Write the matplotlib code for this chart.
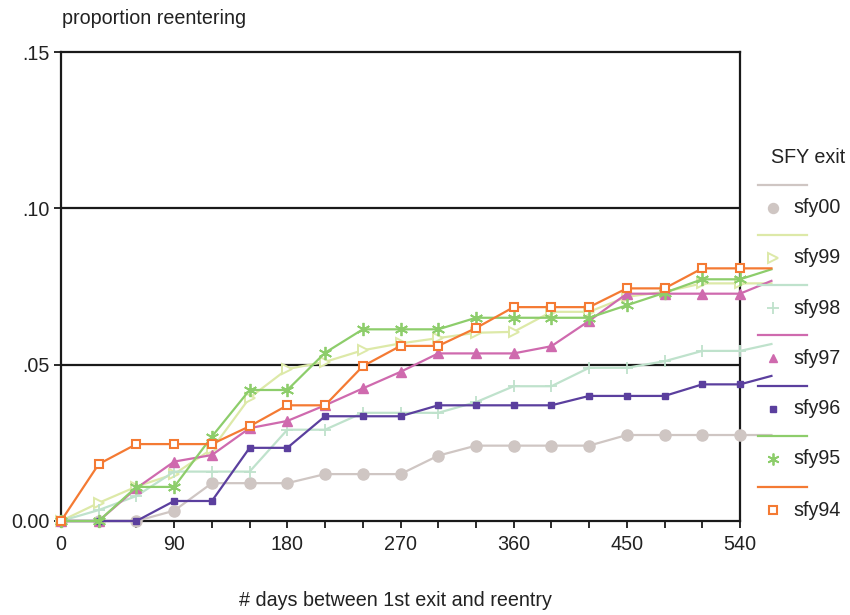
import matplotlib
matplotlib.use("Agg")
import matplotlib.pyplot as plt
from matplotlib.lines import Line2D

plt.rcParams['font.family'] = ['Liberation Sans', 'DejaVu Sans']

days = [0, 30, 60, 90, 120, 150, 180, 210, 240, 270, 300, 330, 360, 390, 420, 450, 480, 510, 540]
tail_day = 565

series_names = ["sfy00", "sfy99", "sfy98", "sfy97", "sfy96", "sfy95", "sfy94"]
sfy00 = [0, 0, 0, 0.0033, 0.0121, 0.0121, 0.0121, 0.015, 0.015, 0.015, 0.0209, 0.0241, 0.0241, 0.0241, 0.0241, 0.0275, 0.0275, 0.0275, 0.0275]
sfy99 = [0, 0.0058, 0.011, 0.015, 0.023, 0.0394, 0.0486, 0.0509, 0.0546, 0.0568, 0.0585, 0.0602, 0.0605, 0.0669, 0.0669, 0.0717, 0.0733, 0.076, 0.076]
sfy98 = [0, 0.0035, 0.008, 0.0158, 0.0158, 0.0158, 0.0292, 0.0292, 0.0346, 0.0346, 0.0346, 0.038, 0.0431, 0.0431, 0.049, 0.049, 0.0511, 0.0544, 0.0544]
sfy97 = [0, 0, 0.0105, 0.019, 0.0211, 0.0297, 0.032, 0.037, 0.0424, 0.0477, 0.0536, 0.0536, 0.0536, 0.0559, 0.064, 0.0727, 0.0727, 0.0727, 0.0727]
sfy96 = [0, 0, 0, 0.0064, 0.0064, 0.0234, 0.0234, 0.0335, 0.0335, 0.0335, 0.037, 0.037, 0.037, 0.037, 0.04, 0.04, 0.04, 0.0437, 0.0437]
sfy95 = [0, 0, 0.0109, 0.0109, 0.027, 0.0419, 0.0419, 0.0538, 0.0613, 0.0613, 0.0613, 0.065, 0.065, 0.065, 0.065, 0.069, 0.073, 0.0773, 0.0773]
sfy94 = [0, 0.0182, 0.0246, 0.0246, 0.0246, 0.0303, 0.037, 0.037, 0.0495, 0.056, 0.056, 0.0617, 0.0684, 0.0684, 0.0684, 0.0744, 0.0744, 0.0808, 0.0808]
# value of each line where it leaves the plot region on the right
tails = [0.0275, 0.076, 0.0566, 0.0768, 0.0464, 0.0805, 0.0808]

xticks = [0, 90, 180, 270, 360, 450, 540]
xticklabels = ["0", "90", "180", "270", "360", "450", "540"]
yticks = [0, 0.05, 0.10, 0.15]
yticklabels = ["0.00", ".05", ".10", ".15"]

values = [sfy00, sfy99, sfy98, sfy97, sfy96, sfy95, sfy94]
colors = ["#cfc6c3", "#dde9a8", "#bfe2cc", "#cf6aae", "#5b3f9e", "#8dcd6b", "#f47a33"]
styles = [
    dict(marker="o", ms=8, mfc="#cfc6c3", mec="#cfc6c3", mew=1),
    dict(marker=">", ms=7.5, mfc="white", mec="#dde9a8", mew=1.4),
    dict(marker="+", ms=9, mfc="#bfe2cc", mec="#bfe2cc", mew=1.3),
    dict(marker="^", ms=7, mfc="#cf6aae", mec="#cf6aae", mew=1),
    dict(marker="s", ms=5, mfc="#5b3f9e", mec="#5b3f9e", mew=1),
    dict(marker=(6, 2, 0), ms=9.5, mfc="#8dcd6b", mec="#8dcd6b", mew=1.3),
    dict(marker="s", ms=6.2, mfc="white", mec="#f47a33", mew=1.5),
]

FS = 14.2
TXT = "#222222"

fig = plt.figure(figsize=(8.5, 6.15), dpi=100)
ax = fig.add_axes([61/850, 1-521/615, (740-61)/850, (521-52)/615])
ax.set_xlim(0, 540)
ax.set_ylim(0, 0.15)

for i, (name, vals) in enumerate(zip(series_names, values)):
    xs = days + [tail_day]
    ys = vals + [tails[i]]
    ax.plot(xs, ys, color=colors[i], lw=1.6, clip_on=False, zorder=3 + i,
            markevery=list(range(len(days))), **styles[i])

ax.hlines([0.05, 0.10], 0, 540, color="#1a1a1a", lw=1.6, zorder=2)
for s in ax.spines.values():
    s.set_linewidth(1.6)
    s.set_color("#1a1a1a")

ax.set_xticks(xticks)
ax.set_xticklabels(xticklabels)
ax.set_xticks(days, minor=True)
ax.set_yticks(yticks)
ax.set_yticklabels(yticklabels)
ax.tick_params(axis="both", which="both", direction="out", length=5, width=1.3,
               color="#1a1a1a", labelsize=FS, labelcolor=TXT, pad=3)
ax.tick_params(axis="x", which="both", pad=5)

fig.text(62/850, 1-18/615, "proportion reentering", fontsize=FS, color=TXT,
         ha="left", va="center")
fig.text(395/850, 1-601/615, "# days between 1st exit and reentry", fontsize=FS,
         color=TXT, ha="center", va="center")

# legend
fig.text(771/850, 1-157/615, "SFY exit", fontsize=FS, color=TXT, ha="left", va="center")
line_y = [185, 235, 285, 335, 386, 436, 487]
for i, name in enumerate(series_names):
    ly = 1 - line_y[i]/615
    my = 1 - (line_y[i] + 23)/615
    fig.add_artist(Line2D([758/850, 807/850], [ly, ly], color=colors[i], lw=1.6,
                          transform=fig.transFigure))
    st = dict(styles[i])
    st["ms"] = st["ms"] * 0.9
    fig.add_artist(Line2D([773/850], [my], color=colors[i], ls="none",
                          transform=fig.transFigure, **st))
    fig.text(793/850, my, name, fontsize=FS, color=TXT, ha="left", va="center")

fig.savefig("out.png", dpi=100)
